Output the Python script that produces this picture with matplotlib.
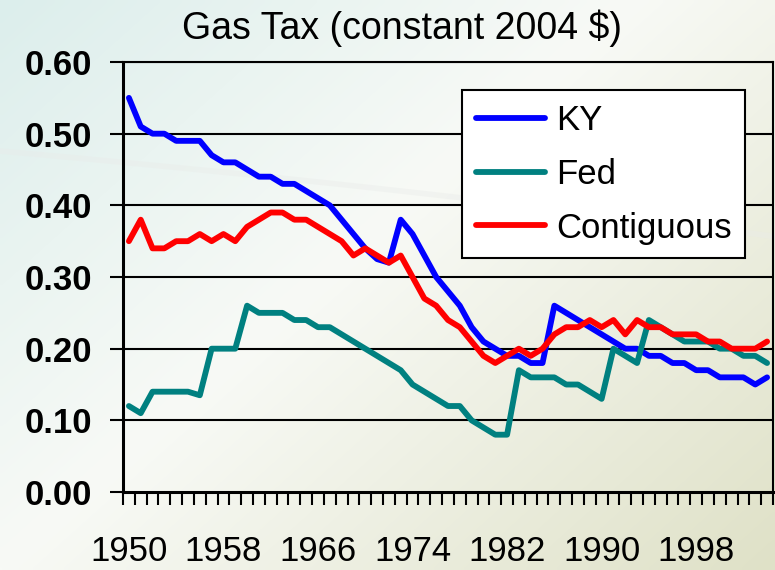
import numpy as np
import matplotlib
matplotlib.use("Agg")
import matplotlib.pyplot as plt
from matplotlib.colors import to_rgb

plt.rcParams['font.family'] = ['Liberation Sans', 'DejaVu Sans']

# yearly values, 1950-2004
years = list(range(1950, 2005))

ky = [0.55, 0.51, 0.50, 0.50, 0.49, 0.49, 0.49, 0.47, 0.46, 0.46,
      0.45, 0.44, 0.44, 0.43, 0.43, 0.42, 0.41, 0.40, 0.38, 0.36,
      0.34, 0.325, 0.32, 0.38, 0.36, 0.33, 0.30, 0.28, 0.26, 0.23,
      0.21, 0.20, 0.19, 0.19, 0.18, 0.18, 0.26, 0.25, 0.24, 0.23,
      0.22, 0.21, 0.20, 0.20, 0.19, 0.19, 0.18, 0.18, 0.17, 0.17,
      0.16, 0.16, 0.16, 0.15, 0.16]

fed = [0.12, 0.11, 0.14, 0.14, 0.14, 0.14, 0.135, 0.20, 0.20, 0.20,
       0.26, 0.25, 0.25, 0.25, 0.24, 0.24, 0.23, 0.23, 0.22, 0.21,
       0.20, 0.19, 0.18, 0.17, 0.15, 0.14, 0.13, 0.12, 0.12, 0.10,
       0.09, 0.08, 0.08, 0.17, 0.16, 0.16, 0.16, 0.15, 0.15, 0.14,
       0.13, 0.20, 0.19, 0.18, 0.24, 0.23, 0.22, 0.21, 0.21, 0.21,
       0.20, 0.20, 0.19, 0.19, 0.18]

contig = [0.35, 0.38, 0.34, 0.34, 0.35, 0.35, 0.36, 0.35, 0.36, 0.35,
          0.37, 0.38, 0.39, 0.39, 0.38, 0.38, 0.37, 0.36, 0.35, 0.33,
          0.34, 0.33, 0.32, 0.33, 0.30, 0.27, 0.26, 0.24, 0.23, 0.21,
          0.19, 0.18, 0.19, 0.20, 0.19, 0.20, 0.22, 0.23, 0.23, 0.24,
          0.23, 0.24, 0.22, 0.24, 0.23, 0.23, 0.22, 0.22, 0.22, 0.21,
          0.21, 0.20, 0.20, 0.20, 0.21]

yticks = [0.0, 0.1, 0.2, 0.3, 0.4, 0.5, 0.6]

fig = plt.figure(figsize=(7.75, 5.7), dpi=100)

# background gradient: mint top-left -> white -> beige bottom-right
bg = fig.add_axes([0, 0, 1, 1], zorder=-10)
h, w = 114, 155
yy, xx = np.mgrid[0:h, 0:w]
t = (xx / (w - 1) * 0.55 + yy / (h - 1) * 0.45)
c0 = np.array(to_rgb('#dceeec'))
c1 = np.array(to_rgb('#f8faf6'))
c2 = np.array(to_rgb('#dfe1c7'))
img = np.where((t < 0.45)[..., None],
               c0 + (c1 - c0) * (t / 0.45)[..., None],
               c1 + (c2 - c1) * ((t - 0.45) / 0.55)[..., None])
bg.imshow(img, aspect='auto', extent=[0, 1, 0, 1], interpolation='bilinear')
sx = np.linspace(0, 1, 50)
bg.plot(sx, 0.735 - 0.12 * sx - 0.03 * sx**2, color='#e9ebe9', lw=4, alpha=0.4)
bg.set_xlim(0, 1)
bg.set_ylim(0, 1)
bg.axis('off')

ax = fig.add_axes([0.1587, 0.1368, 0.8387, 0.7544])
ax.patch.set_alpha(0)

x = np.arange(len(years))
style = dict(lw=4.2, solid_joinstyle='round', solid_capstyle='round')
ax.plot(x, ky, color='#0000ff', label='KY', **style)
ax.plot(x, fed, color='#008080', label='Fed', **style)
ax.plot(x, contig, color='#ff0000', label='Contiguous', **style)

ax.set_xlim(-0.5, len(years) - 0.5)
ax.set_ylim(0, 0.6)
ax.set_yticks(yticks)
ax.set_yticklabels(['%.2f' % v for v in yticks], fontsize=25, fontweight='bold')
for v in yticks[1:]:
    ax.axhline(v, color='black', lw=1.5, zorder=0.5)

ax.set_xticks(x[::8])
ax.set_xticklabels([str(y) for y in years[::8]], fontsize=25)
ax.set_xticks(np.arange(-0.5, len(years), 1.0), minor=True)
ax.tick_params(axis='x', which='major', length=0, pad=31)
ax.tick_params(axis='x', which='minor', length=9, width=1.5, direction='out')
ax.tick_params(axis='y', length=9.5, width=1.5, direction='out', pad=13)

for side in ['left', 'bottom']:
    ax.spines[side].set_linewidth(2.2)
ax.spines['right'].set_linewidth(1.5)
ax.spines['top'].set_linewidth(1.5)

fig.text(402 / 775, 1 - 28 / 570, 'Gas Tax (constant 2004 $)', fontsize=27,
         ha='center', va='center')

leg = ax.legend(loc='upper left', bbox_to_anchor=(462 / 775, 1 - 90 / 570),
                bbox_transform=fig.transFigure, fontsize=25, frameon=True,
                fancybox=False, edgecolor='black', facecolor='white', framealpha=1,
                borderaxespad=0, borderpad=0.4, handlelength=2.0,
                handletextpad=0.3, labelspacing=0.6)
leg.get_frame().set_linewidth(1.5)

fig.savefig('out.png', dpi=100)
